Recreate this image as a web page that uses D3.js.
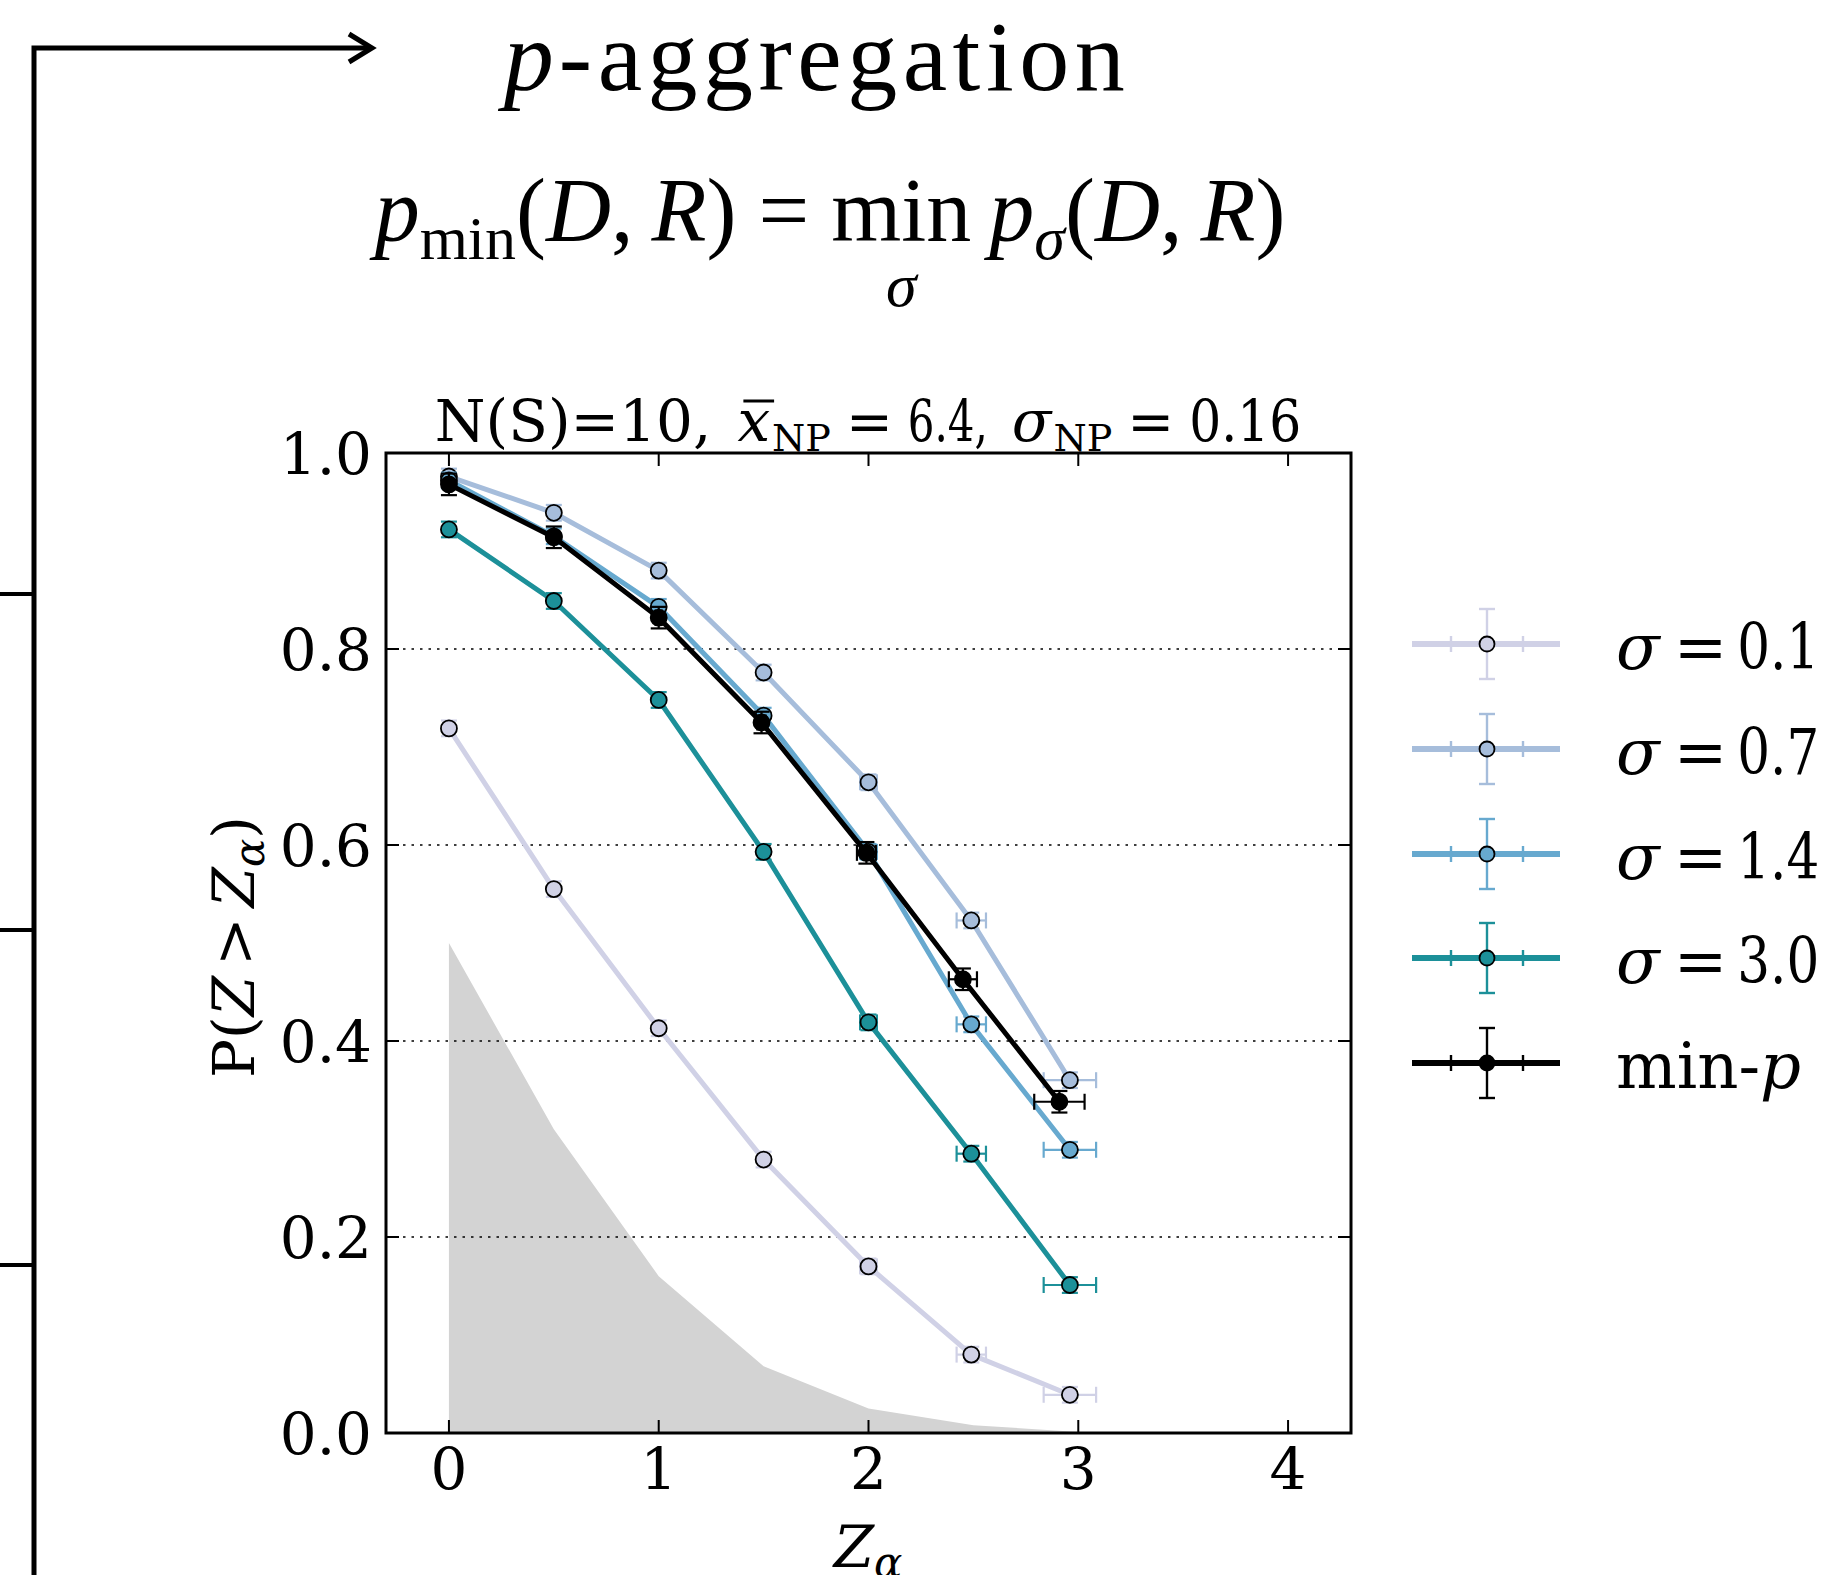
<!DOCTYPE html>
<html><head><meta charset="utf-8">
<script src="https://cdn.jsdelivr.net/npm/d3@7"></script>
<style>body{margin:0;background:#fff}svg{display:block}</style>
</head><body>
<svg id="c" width="1845" height="1575"></svg>
<script>
// ---------- data ----------
const seriesNames = ["σ = 0.1", "σ = 0.7", "σ = 1.4", "σ = 3.0", "min-p"];
const seriesColors = ["#d0d1e6", "#a6bddb", "#67a9cf", "#1c9099", "#000000"];
const sigmaX = [0, 0.5, 1, 1.5, 2, 2.49, 2.96];
const minpX  = [0, 0.5, 1, 1.49, 1.99, 2.45, 2.91];
const sigma01 = [0.719, 0.555, 0.413, 0.279, 0.170, 0.080, 0.039];
const sigma07 = [0.976, 0.939, 0.880, 0.776, 0.664, 0.523, 0.360];
const sigma14 = [0.972, 0.915, 0.843, 0.732, 0.593, 0.417, 0.289];
const sigma30 = [0.922, 0.849, 0.748, 0.593, 0.419, 0.285, 0.151];
const minP    = [0.968, 0.914, 0.832, 0.725, 0.592, 0.463, 0.338];
const sigmaXerr = [0.01, 0.01, 0.015, 0.02, 0.04, 0.07, 0.125];
const minpXerr  = [0.01, 0.01, 0.015, 0.02, 0.045, 0.067, 0.12];
const sigmaYerr = 0.008;
const minpYerr  = 0.011;
const nullX = [0, 0.5, 1, 1.5, 2, 2.5, 3];
const nullDist = [0.50, 0.31, 0.160, 0.068, 0.025, 0.008, 0.001];
const xTicks = [0, 1, 2, 3, 4];
const yTicks = [0, 0.2, 0.4, 0.6, 0.8, 1.0];
const gridTicks = [0.2, 0.4, 0.6, 0.8];

const seriesData = [
  {x: sigmaX, y: sigma01, xe: sigmaXerr, ye: sigmaYerr},
  {x: sigmaX, y: sigma07, xe: sigmaXerr, ye: sigmaYerr},
  {x: sigmaX, y: sigma14, xe: sigmaXerr, ye: sigmaYerr},
  {x: sigmaX, y: sigma30, xe: sigmaXerr, ye: sigmaYerr},
  {x: minpX,  y: minP,    xe: minpXerr,  ye: minpYerr}
];

// ---------- layout ----------
const svg = d3.select("#c");
const L = 386, R = 1351, T = 453, B = 1433;
const x = d3.scaleLinear().domain([-0.3, 4.3]).range([L, R]);
const y = d3.scaleLinear().domain([0, 1]).range([B, T]);
const SERIF = "'DejaVu Serif', serif";
const TSERIF = "'Liberation Serif', 'DejaVu Serif', serif";

// text-run helper
function runs(parent, x0, y0, parts, anchor) {
  const g = parent.append("g");
  let cx = 0;
  const items = [];
  parts.forEach(p => {
    if (p.gap) { cx += p.gap; }
    const t = g.append("text")
      .attr("x", cx).attr("y", p.dy || 0)
      .attr("font-family", p.family || SERIF)
      .attr("font-size", p.size)
      .attr("font-style", p.italic ? "italic" : "normal")
      .attr("fill", "#000")
      .text(p.t);
    if (p.ls) t.attr("letter-spacing", p.ls);
    let w;
    if (p.tl) {
      t.attr("textLength", p.tl).attr("lengthAdjust", "spacingAndGlyphs");
      w = p.tl;
    } else {
      w = t.node().getComputedTextLength();
    }
    items.push({node: t, x: cx, w: w, p: p});
    cx += w;
  });
  const total = cx;
  let shift = 0;
  if (anchor === "middle") shift = -total / 2;
  else if (anchor === "end") shift = -total;
  g.attr("transform", `translate(${x0 + shift},${y0})`);
  return {g, items, total, x0: x0 + shift};
}

// ---------- left decoration ----------
const deco = svg.append("g").attr("stroke", "#000").attr("fill", "none").attr("stroke-width", 5);
deco.append("path").attr("d", `M34,1575 L34,48 L372,48`).attr("stroke-linejoin", "miter");
deco.append("path").attr("d", `M349,34 L372,48 L349,62`).attr("stroke-linejoin", "miter");
[594, 930, 1265].forEach(yy => deco.append("line").attr("x1", 0).attr("x2", 34).attr("y1", yy).attr("y2", yy).attr("stroke-width", 4));

// ---------- headings ----------
runs(svg, 817, 90, [
  {t: "p", size: 100, italic: true, family: TSERIF, ls: 5},
  {t: "-aggregation", size: 100, family: TSERIF, ls: 5.5}
], "middle");

const f = runs(svg, 830, 241, [
  {t: "p", size: 90, italic: true, family: TSERIF},
  {t: "min", size: 62, dy: 18, family: TSERIF},
  {t: "(", size: 90, family: TSERIF},
  {t: "D", size: 90, italic: true, family: TSERIF},
  {t: ",", size: 90, family: TSERIF},
  {t: "R", size: 90, italic: true, family: TSERIF, gap: 18},
  {t: ")", size: 90, family: TSERIF},
  {t: "=", size: 90, family: TSERIF, gap: 22},
  {t: "min", size: 90, family: TSERIF, gap: 22},
  {t: "p", size: 90, italic: true, family: TSERIF, gap: 18},
  {t: "σ", size: 62, italic: true, dy: 18, family: TSERIF},
  {t: "(", size: 90, family: TSERIF},
  {t: "D", size: 90, italic: true, family: TSERIF},
  {t: ",", size: 90, family: TSERIF},
  {t: "R", size: 90, italic: true, family: TSERIF, gap: 18},
  {t: ")", size: 90, family: TSERIF}
], "middle");
{
  const mi = f.items[8];
  const cxm = f.x0 + mi.x + mi.w / 2;
  svg.append("text").attr("x", cxm).attr("y", 306).attr("text-anchor", "middle")
    .attr("font-family", TSERIF).attr("font-size", 62).attr("font-style", "italic").text("σ");
}

// plot title
const tt = runs(svg, 868, 441, [
  {t: "N(S)=10,", size: 58},
  {t: "x", size: 58, italic: true, gap: 26},
  {t: "NP", size: 38, dy: 10, gap: 2},
  {t: "=", size: 56, gap: 15},
  {t: "6.4,", size: 58, gap: 15, tl: 80},
  {t: "σ", size: 58, italic: true, gap: 24},
  {t: "NP", size: 38, dy: 10, gap: 2},
  {t: "=", size: 56, gap: 15},
  {t: "0.16", size: 58, gap: 15, tl: 112}
], "middle");
{
  const xi = tt.items[1];
  tt.g.append("line").attr("x1", xi.x + 6).attr("x2", xi.x + xi.w + 4)
    .attr("y1", -40).attr("y2", -40).attr("stroke", "#000").attr("stroke-width", 3);
}

// ---------- plot ----------
const plot = svg.append("g");
plot.append("clipPath").attr("id", "clip").append("rect")
  .attr("x", L).attr("y", T).attr("width", R - L).attr("height", B - T);

// null distribution area
const area = d3.area().x((d, i) => x(nullX[i])).y0(y(0)).y1(d => y(d));
plot.append("path").attr("d", area(nullDist)).attr("fill", "#d3d3d3");

// grid
gridTicks.forEach(v => plot.append("line")
  .attr("x1", L).attr("x2", R).attr("y1", y(v)).attr("y2", y(v))
  .attr("stroke", "#000").attr("stroke-width", 1.4).attr("stroke-dasharray", "2.5,6"));

// series
const line = d3.line();
seriesData.forEach((s, si) => {
  const col = seriesColors[si];
  const g = plot.append("g").attr("clip-path", "url(#clip)");
  const eb = g.append("g").attr("stroke", col).attr("stroke-width", 2.2).attr("fill", "none");
  s.x.forEach((xv, i) => {
    const px = x(xv), py = y(s.y[i]);
    const x1 = x(xv - s.xe[i]), x2 = x(xv + s.xe[i]);
    const y1 = y(s.y[i] - s.ye), y2 = y(s.y[i] + s.ye);
    eb.append("line").attr("x1", x1).attr("x2", x2).attr("y1", py).attr("y2", py);
    eb.append("line").attr("x1", x1).attr("x2", x1).attr("y1", py - 8).attr("y2", py + 8);
    eb.append("line").attr("x1", x2).attr("x2", x2).attr("y1", py - 8).attr("y2", py + 8);
    eb.append("line").attr("x1", px).attr("x2", px).attr("y1", y1).attr("y2", y2);
    eb.append("line").attr("x1", px - 8).attr("x2", px + 8).attr("y1", y1).attr("y2", y1);
    eb.append("line").attr("x1", px - 8).attr("x2", px + 8).attr("y1", y2).attr("y2", y2);
  });
  g.append("path").attr("d", line(s.x.map((xv, i) => [x(xv), y(s.y[i])])))
    .attr("fill", "none").attr("stroke", col).attr("stroke-width", 5).attr("stroke-linejoin", "round");
  s.x.forEach((xv, i) => {
    g.append("circle").attr("cx", x(xv)).attr("cy", y(s.y[i])).attr("r", 8)
      .attr("fill", col).attr("stroke", "#000").attr("stroke-width", 1.8);
  });
});

// spines and ticks
const ax = svg.append("g").attr("stroke", "#000");
ax.append("rect").attr("x", L).attr("y", T).attr("width", R - L).attr("height", B - T)
  .attr("fill", "none").attr("stroke-width", 3);
xTicks.forEach(v => {
  ax.append("line").attr("x1", x(v)).attr("x2", x(v)).attr("y1", B).attr("y2", B - 13).attr("stroke-width", 2);
  ax.append("line").attr("x1", x(v)).attr("x2", x(v)).attr("y1", T).attr("y2", T + 13).attr("stroke-width", 2);
});
yTicks.forEach(v => {
  ax.append("line").attr("x1", L).attr("x2", L + 13).attr("y1", y(v)).attr("y2", y(v)).attr("stroke-width", 2);
  ax.append("line").attr("x1", R).attr("x2", R - 13).attr("y1", y(v)).attr("y2", y(v)).attr("stroke-width", 2);
});
// tick labels
xTicks.forEach(v => svg.append("text").attr("x", x(v)).attr("y", 1489)
  .attr("text-anchor", "middle").attr("font-family", SERIF).attr("font-size", 58).text(d3.format("d")(v)));
yTicks.forEach(v => svg.append("text").attr("x", 372).attr("y", y(v) + 21)
  .attr("text-anchor", "end").attr("font-family", SERIF).attr("font-size", 58).text(d3.format(".1f")(v)));

// axis labels
runs(svg, 868, 1567, [
  {t: "Z", size: 58, italic: true},
  {t: "α", size: 42, italic: true, dy: 10}
], "middle");
{
  const gl = svg.append("g").attr("transform", "translate(254,947) rotate(-90)");
  runs(gl, 0, 0, [
    {t: "P(", size: 58},
    {t: "Z", size: 58, italic: true},
    {t: ">", size: 58, gap: 10},
    {t: "Z", size: 58, italic: true, gap: 10},
    {t: "α", size: 42, italic: true, dy: 10},
    {t: ")", size: 58}
  ], "middle");
}

// ---------- legend ----------
const legY = [644, 749, 854, 958, 1063];
seriesNames.forEach((name, si) => {
  const col = seriesColors[si];
  const cy = legY[si];
  const g = svg.append("g");
  g.append("line").attr("x1", 1412).attr("x2", 1560).attr("y1", cy).attr("y2", cy)
    .attr("stroke", col).attr("stroke-width", 6);
  const eb = g.append("g").attr("stroke", col).attr("stroke-width", 2.4);
  eb.append("line").attr("x1", 1487).attr("x2", 1487).attr("y1", cy - 35).attr("y2", cy + 35);
  eb.append("line").attr("x1", 1479).attr("x2", 1495).attr("y1", cy - 35).attr("y2", cy - 35);
  eb.append("line").attr("x1", 1479).attr("x2", 1495).attr("y1", cy + 35).attr("y2", cy + 35);
  eb.append("line").attr("x1", 1451).attr("x2", 1451).attr("y1", cy - 8).attr("y2", cy + 8);
  eb.append("line").attr("x1", 1523).attr("x2", 1523).attr("y1", cy - 8).attr("y2", cy + 8);
  g.append("circle").attr("cx", 1487).attr("cy", cy).attr("r", 7.5)
    .attr("fill", col).attr("stroke", "#000").attr("stroke-width", 1.8);
  if (si < 4) {
    const parts = name.split(" = ");
    runs(svg, 1616, cy + 25, [
      {t: "σ", size: 64, italic: true},
      {t: "=", size: 64, gap: 14},
      {t: parts[1], size: 64, gap: 10, tl: 82}
    ], "start");
  } else {
    runs(svg, 1616, cy + 25, [
      {t: "min-", size: 64},
      {t: "p", size: 64, italic: true}
    ], "start");
  }
});
</script>
</body></html>
